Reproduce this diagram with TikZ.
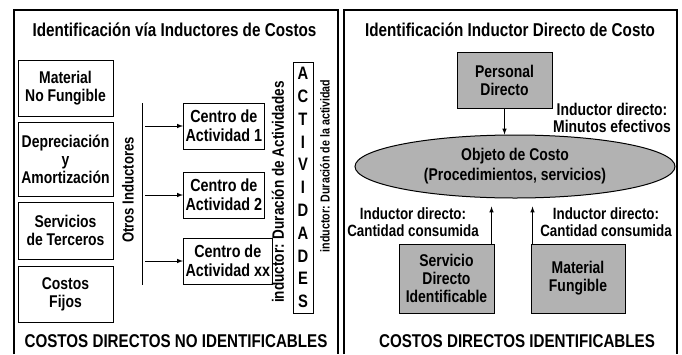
\documentclass[tikz,border=0pt]{standalone}
\usepackage{fontspec}
\setmainfont{Liberation Sans}[FakeStretch=0.82]
\usetikzlibrary{positioning,shapes.geometric}

\definecolor{gris}{RGB}{178,178,178}

\tikzset{
  marco/.style={line width=1.2pt},
  caja/.style={draw,line width=1pt,align=center,inner sep=2pt,
    font=\bfseries\fontsize{17}{18}\selectfont},
  cajagris/.style={caja,fill=gris},
  centro/.style={caja,anchor=west,minimum height=46,font=\bfseries\fontsize{17.5}{19}\selectfont},
  titulo/.style={anchor=base,font=\bfseries\fontsize{18.6}{20}\selectfont},
  pie/.style={anchor=base,font=\bfseries\fontsize{18.5}{22}\selectfont},
  etiq/.style={align=center,font=\bfseries\fontsize{17}{17}\selectfont},
  girado/.style={rotate=90,font=\bfseries\fontsize{16}{18}\selectfont},
  flecha/.style={-latex,line width=1pt},
}

\begin{document}
\begin{tikzpicture}[x=1pt,y=-1pt]
\useasboundingbox (0,0) rectangle (682,354);

% izquierda
\draw [marco] (14,354)--(14,10)--(338,10)--(338,354);
\node [titulo] (tit1) at (174.5,36) {Identificación vía Inductores de Costos};

\node [caja,minimum width=95,minimum height=56] (mat) at (65.5,88) {Material\\No Fungible};
\node [caja,minimum width=95,minimum height=74] (dep) at (65.5,159) {Depreciación\\y\\Amortización};
\node [caja,minimum width=95,minimum height=57] (serv) at (65.5,230.5) {Servicios\\de Terceros};
\node [caja,minimum width=95,minimum height=56] (cost) at (65.5,294) {Costos\\Fijos};

\coordinate (lt) at (142,103);
\coordinate (lb) at (142,285);
\draw [line width=1pt] (lt)--(lb);
\node [girado] (otros) at (128,190) {Otros Inductores};

\node [centro] (c1) at (183,126) {Centro de\\Actividad 1};
\node [centro] (c2) at (183,195) {Centro de\\Actividad 2};
\node [centro] (cxx) at (183,261) {Centro de\\Actividad xx};
\draw [flecha] ([xshift=3pt]lt |- c1) -- (c1.west);
\draw [flecha] ([xshift=3pt]lt |- c2) -- (c2.west);
\draw [flecha] ([xshift=3pt]lt |- cxx) -- (cxx.west);

\node [girado,font=\bfseries\fontsize{16.5}{18}\selectfont] (ind1) at (278,192) {inductor: Duración de Actividades};
\node [draw,line width=1pt,minimum width=20,minimum height=251,inner sep=0pt,align=center,
  font=\bfseries\fontsize{18}{22.8}\selectfont] (act) at (303,187.5)
  {A\\C\\T\\I\\V\\I\\D\\A\\D\\E\\S};
\node [girado,font=\bfseries\fontsize{13}{15}\selectfont] (ind2) at (325,166) {inductor: Duración de la actividad};

\node [pie] (pie1) at (176,347) {COSTOS DIRECTOS NO IDENTIFICABLES};

% derecha
\draw [marco] (344,354)--(344,10)--(677,10)--(677,354);
\node [titulo] (tit2) at (510,36) {Identificación Inductor Directo de Costo};

\node [cajagris,minimum width=95,minimum height=56] (pers) at (504.5,80) {Personal\\Directo};
\node [ellipse,draw,line width=1pt,fill=gris,minimum width=320,minimum height=63,align=center,
  inner sep=0pt,font=\bfseries\fontsize{17}{20}\selectfont] (obj) at (515,166.5)
  {Objeto de Costo\\(Procedimientos, servicios)};
\draw [flecha] (pers.south) -- (pers.south |- obj.north);
\node [etiq] (min) at (612,118) {Inductor directo:\\Minutos efectivos};

\node [cajagris,minimum width=95,minimum height=69] (sdi) at (446.5,278.5) {Servicio\\Directo\\Identificable};
\node [cajagris,minimum width=94,minimum height=69] (mfu) at (578,278.5) {Material\\Fungible};
\draw [flecha,shorten >=8pt] ([xshift=-3pt]sdi.north east) -- ([xshift=-3pt]sdi.north east |- obj.south);
\draw [flecha,shorten >=8pt] ([xshift=2pt]mfu.north west) -- ([xshift=2pt]mfu.north west |- obj.south);
\node [etiq,font=\bfseries\fontsize{16.3}{17}\selectfont] (cant1) at (413,222.5) {Inductor directo:\\Cantidad consumida};
\node [etiq,font=\bfseries\fontsize{16.3}{17}\selectfont] (cant2) at (606,222.5) {Inductor directo:\\Cantidad consumida};

\node [pie] (pie2) at (517,347) {COSTOS DIRECTOS IDENTIFICABLES};
\end{tikzpicture}
\end{document}
